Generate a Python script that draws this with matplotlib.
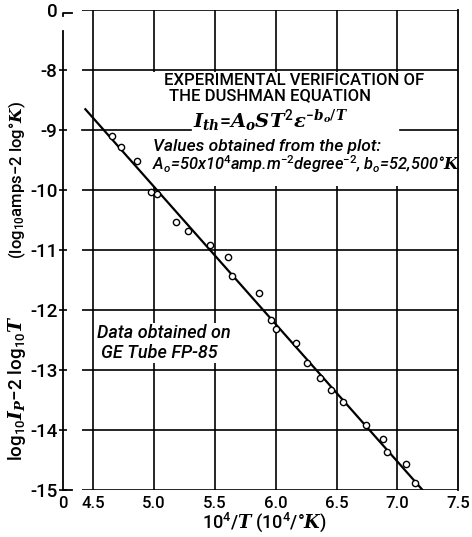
import matplotlib.pyplot as plt
from matplotlib.patches import Rectangle

# Dushman equation check: log10 Ip - 2 log10 T vs 10^4/T
inv_T = [4.655, 4.729, 4.855, 4.97, 5.026, 5.178, 5.279, 5.459, 5.605, 5.64,
         5.866, 5.963, 6.004, 6.164, 6.258, 6.362, 6.453, 6.555, 6.742, 6.886,
         6.913, 7.07, 7.147]
log_val = [-9.10, -9.28, -9.52, -10.03, -10.07, -10.53, -10.68, -10.92, -11.12, -11.43,
           -11.71, -12.16, -12.31, -12.55, -12.89, -13.14, -13.33, -13.54, -13.92, -14.15,
           -14.37, -14.56, -14.88]

# fitted straight line (end points)
fit_x = [4.434, 7.208]
fit_y = [-8.655, -15.0]

xticks = [4.25, 4.5, 5.0, 5.5, 6.0, 6.5, 7.0, 7.5]
xtick_labels = ["0", "4.5", "5.0", "5.5", "6.0", "6.5", "7.0", "7.5"]
yticks = [-15, -14, -13, -12, -11, -10, -9, -8, -7]
ytick_labels = ["-15", "-14", "-13", "-12", "-11", "-10", "-9", "-8", "0"]

plt.rcParams['font.family'] = ['Roboto', 'DejaVu Sans']
plt.rcParams['font.weight'] = 'medium'
plt.rcParams['mathtext.fontset'] = 'custom'
plt.rcParams['mathtext.rm'] = 'Roboto:medium'
plt.rcParams['mathtext.it'] = 'DejaVu Serif:italic:bold'
plt.rcParams['mathtext.sf'] = 'Roboto:italic:medium'
plt.rcParams['mathtext.bf'] = 'DejaVu Serif:bold'

fig = plt.figure(figsize=(4.72, 5.37), dpi=100)
ax = fig.add_axes([0.1335, 0.0875, 0.837, 0.894])
ax.set_xlim(4.25, 7.5)
ax.set_ylim(-15, -7)

for s in ['top', 'bottom', 'left']:
    ax.spines[s].set_visible(False)
ax.spines['right'].set_linewidth(1.3)

lw = 1.2
gx0 = 4.41
# horizontal grid + top/bottom lines (broken near the left axis)
for yv in [-15, -14, -13, -12, -11, -10, -8, -7]:
    ax.plot([gx0, 7.5], [yv, yv], color='black', lw=lw, zorder=1, solid_capstyle='butt')
# vertical grid
for xv in [4.5, 5.0, 5.5, 6.0, 6.5, 7.0]:
    ax.plot([xv, xv], [-15, -7], color='black', lw=lw, zorder=1)

# broken left axis
ax.plot([4.25, 4.25], [-15, -7.35], color='black', lw=1.3, zorder=1, clip_on=False)
ax.plot([4.25, 4.25, 4.32], [-7.1, -7.05, -7.05], color='black', lw=1.3, clip_on=False)
ax.plot([4.25, 4.32], [-15, -15], color='black', lw=1.3, clip_on=False)

# white panel behind the title text
ax.add_patch(Rectangle((4.95, -9.93), 2.52, 1.9, facecolor='white', edgecolor='none', zorder=2))
ax.plot([gx0, 5.30], [-9, -9], color='black', lw=lw, zorder=3)
ax.plot([7.02, 7.5], [-9, -9], color='black', lw=lw, zorder=3)

ax.plot(fit_x, fit_y, color='black', lw=1.6, zorder=4)
ax.plot(inv_T, log_val, 'o', mfc='white', mec='black', mew=1.0, ms=4.5, zorder=5)

ax.set_xticks(xticks)
ax.set_xticklabels(xtick_labels, fontsize=12)
ax.set_yticks(yticks)
ax.set_yticklabels(ytick_labels, fontsize=13.5)
ax.tick_params(axis='x', length=0, pad=4)
ax.tick_params(axis='y', direction='inout', length=6, width=1.2, pad=1)
ax.yaxis.get_major_ticks()[-1].tick1line.set_visible(False)

ax.text(5.08, -8.17, "EXPERIMENTAL VERIFICATION OF", fontsize=12, va='center', ha='left', zorder=6)
ax.text(5.12, -8.43, "THE DUSHMAN EQUATION", fontsize=12, va='center', ha='left', zorder=6)
ax.text(5.32, -8.85, r"$I_{th}$=$A_o S T^2 \epsilon^{-b_o/T}$",
        fontsize=14, va='center', ha='left', zorder=6)
ax.text(4.99, -9.27, "Values obtained from the plot:", fontsize=12.5, style='italic',
        va='center', ha='left', zorder=6)
ax.text(4.98, -9.57, r"$\mathsf{A_o}$=50x10$^4$amp.m$^{-2}$degree$^{-2}$, $\mathsf{b_o}$=52,500°$K$",
        fontsize=11.8, style='italic', va='center', ha='left', zorder=6, clip_on=False)

ax.text(4.53, -12.38, "Data obtained on", fontsize=13, style='italic', va='center', ha='left',
        zorder=6, bbox=dict(facecolor='white', edgecolor='none', pad=0.5))
ax.text(4.56, -12.72, "GE Tube FP-85", fontsize=13, style='italic', va='center', ha='left',
        zorder=6, bbox=dict(facecolor='white', edgecolor='none', pad=0.5))

fig.text(0.56, 0.027, r"10$^4$/$T$ (10$^4$/°$K$)", fontsize=13, ha='center', va='center')
fig.text(0.037, 0.277, r"log$_{10}$$I_P$$-$2 log$_{10}$$T$", fontsize=13.5,
         rotation=90, ha='center', va='center')
fig.text(0.036, 0.665, r"(log$_{10}$amps$-$2 log°$K$)", fontsize=12,
         rotation=90, ha='center', va='center')

fig.savefig("out.png", dpi=100)
